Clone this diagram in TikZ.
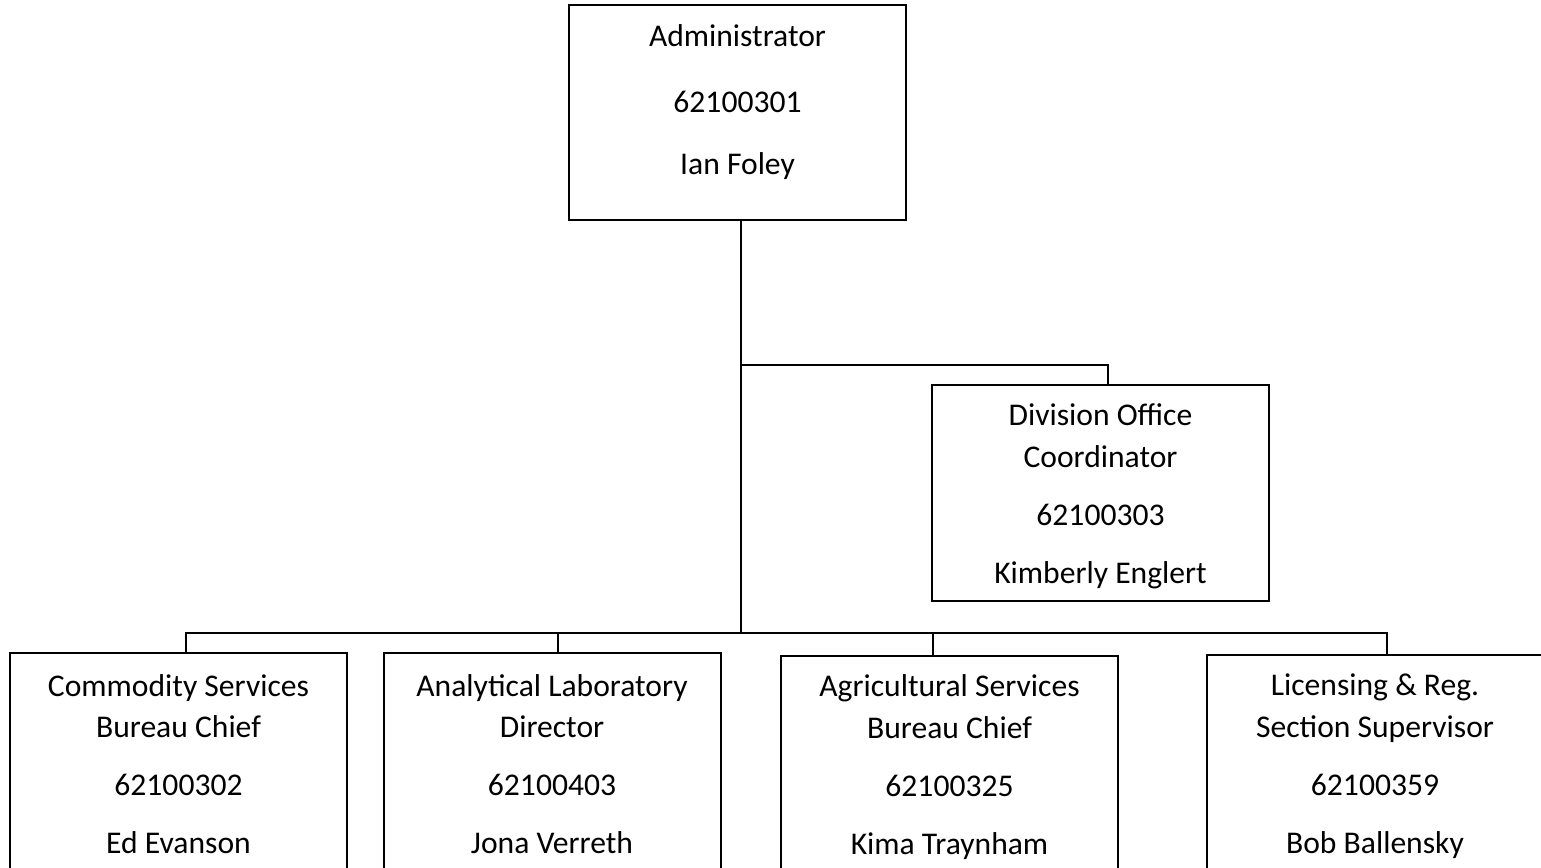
\documentclass[tikz,border=0pt]{standalone}
\usepackage{fontspec}
\setmainfont{Carlito}
\usetikzlibrary{positioning}
\tikzset{
    base/.style={font=\fontsize{15.8}{20.75}\selectfont, align=center},
    post/.style={rectangle, draw=black, line width=1pt, fill=white,
                 minimum width=168.5pt, inner sep=0pt},
    title/.style={base, inner sep=0pt},
    link/.style={draw=black, line width=1pt}
}
\begin{document}
\begin{tikzpicture}[x=0.5pt, y=-0.5pt]
  \useasboundingbox (0,0) rectangle (1541,867);
  % Boxes
  \node[post, minimum height=107.5pt] (admin) at (737.5,112.5) {};
  \node[post, minimum height=108pt] (doc) at (1100.5,493) {};
  \node[post, minimum height=112pt] (csb) at (178.5,765) {};
  \node[post, minimum height=112pt] (alab) at (552,765) {};
  \node[post, minimum height=112pt] (asb) at (949.5,768) {};
  \node[post, minimum height=112pt] (lrs) at (1375,767) {};

  % Texts
  \node[title] (admin-t) at (737.5,102.5) {Administrator\\[12pt]62100301\\[10.5pt]Ian Foley};
  \node[title] (doc-t) at (1100.5,496.5) {Division Office\\Coordinator\\[8.25pt]62100303\\[8.25pt]Kimberly Englert};
  \node[title] (csb-t) at (178.5,764) {Commodity Services\\Bureau Chief\\[8.25pt]62100302\\[8.25pt]Ed Evanson};
  \node[title] (alab-t) at (552,764) {Analytical Laboratory\\Director\\[8.25pt]62100403\\[8.25pt]Jona Verreth};
  \node[title] (asb-t) at (949.5,767) {Agricultural Services\\Bureau Chief\\[8.25pt]62100325\\[8.25pt]Kima Traynham};
  \node[title] (lrs-t) at (1375,766) {Licensing \& Reg.\\Section Supervisor\\[8.25pt]62100359\\[8.25pt]Bob Ballensky};

  % Lines
  \coordinate (docj) at (741,365);
  \coordinate (trunk) at (741,633);
  \draw[link] (admin.south -| trunk) -- (trunk);
  \draw[link] (docj) -| ([xshift=3.75pt]doc.north);
  \draw[link] (trunk) -| ([xshift=3.75pt]csb.north);
  \draw[link] (trunk) -| ([xshift=3pt]alab.north);
  \draw[link] (trunk) -| ([xshift=-8.25pt]asb.north);
  \draw[link] (trunk) -| ([xshift=6pt]lrs.north);
\end{tikzpicture}
\end{document}
